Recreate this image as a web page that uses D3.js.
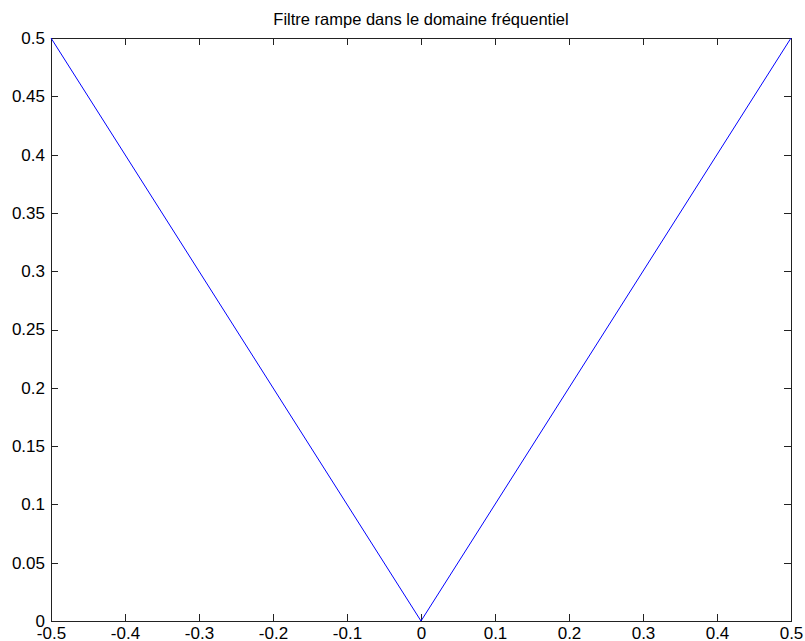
<!DOCTYPE html>
<html lang="fr">
<head>
<meta charset="UTF-8">
<title>Filtre rampe</title>
<script src="https://cdn.jsdelivr.net/npm/d3@7/dist/d3.min.js"></script>
<style>
  body{margin:0;background:#fff;}
  svg{display:block;font-family:"Liberation Sans",Arial,sans-serif;}
  .axis path,.axis line{fill:none;stroke:#222;shape-rendering:crispEdges;}
  .axis text{fill:#000;font-size:17px;}
</style>
</head>
<body>
<script>
// fréquences et réponse du filtre rampe |f|
var freq = [-0.5, 0, 0.5];
var gain = [0.5, 0, 0.5];
var xTicks = [-0.5,-0.4,-0.3,-0.2,-0.1,0,0.1,0.2,0.3,0.4,0.5];
var yTicks = [0,0.05,0.1,0.15,0.2,0.25,0.3,0.35,0.4,0.45,0.5];
var titre = "Filtre rampe dans le domaine fréquentiel";

var W = 805, H = 641;
var margin = {top:38, right:14, bottom:20, left:51};
var width = W - margin.left - margin.right,
    height = H - margin.top - margin.bottom;

var x = d3.scaleLinear().domain([-0.5,0.5]).range([0,width]);
var y = d3.scaleLinear().domain([0,0.5]).range([height,0]);

var svg = d3.select("body").append("svg")
  .attr("width",W).attr("height",H);
var g = svg.append("g")
  .attr("transform","translate("+margin.left+","+margin.top+")");

var fmt = function(d){ return String(+d.toFixed(2)); };

// axes, ticks vers l'intérieur comme MATLAB
g.append("g").attr("class","axis")
  .attr("transform","translate(0,"+height+")")
  .call(d3.axisBottom(x).tickValues(xTicks).tickFormat(fmt).tickSizeInner(-7).tickSizeOuter(0).tickPadding(6));
g.append("g").attr("class","axis")
  .call(d3.axisLeft(y).tickValues(yTicks).tickFormat(fmt).tickSizeInner(-7).tickSizeOuter(0).tickPadding(6));
g.append("g").attr("class","axis")
  .call(d3.axisTop(x).tickValues(xTicks).tickFormat("").tickSizeInner(-7).tickSizeOuter(0));
g.append("g").attr("class","axis")
  .attr("transform","translate("+width+",0)")
  .call(d3.axisRight(y).tickValues(yTicks).tickFormat("").tickSizeInner(-7).tickSizeOuter(0));

var line = d3.line()
  .x(function(d,i){ return x(freq[i]); })
  .y(function(d){ return y(d); });

g.append("path")
  .datum(gain)
  .attr("fill","none")
  .attr("stroke","#0000ff")
  .attr("stroke-width",1)
  .attr("d",line);

svg.append("text")
  .attr("x",margin.left+width/2)
  .attr("y",25)
  .attr("text-anchor","middle")
  .style("font-size","16.5px")
  .text(titre);
</script>
</body>
</html>
